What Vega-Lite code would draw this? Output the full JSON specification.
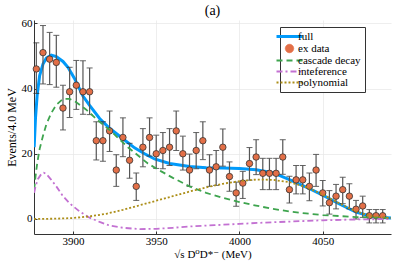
{
  "$schema": "https://vega.github.io/schema/vega-lite/v6.json",
  "width": 357,
  "height": 214,
  "autosize": "none",
  "padding": {"left": 34, "top": 20, "right": 8, "bottom": 32},
  "background": "white",
  "title": {"text": "(a)", "font": "'Liberation Serif', 'DejaVu Serif', serif", "fontSize": 14, "fontWeight": "normal", "color": "#000", "offset": -1},
  "config": {
    "view": {"stroke": null},
    "text": {"font": "'Liberation Serif', serif"},
    "axis": {
      "labelFont": "'Liberation Serif', 'DejaVu Serif', serif", "labelFontSize": 11, "labelColor": "#000",
      "titleFont": "'Liberation Serif', 'DejaVu Serif', serif", "titleFontWeight": "normal", "titleColor": "#000",
      "domainColor": "#333", "domainWidth": 1, "tickColor": "#333", "tickSize": -3,
      "gridColor": "#e6e6e6", "gridWidth": 0.7
    },
    "legend": {"labelFont": "'Liberation Serif', 'DejaVu Serif', serif"}
  },
  "datasets": {
    "points": [
      {"x": 3878, "y": 46, "lo": 38.5, "hi": 54},
      {"x": 3882, "y": 51, "lo": 41.4, "hi": 59.3},
      {"x": 3886, "y": 49, "lo": 41.2, "hi": 57.2},
      {"x": 3890, "y": 48, "lo": 40.4, "hi": 56.3},
      {"x": 3894, "y": 34, "lo": 27.3, "hi": 41},
      {"x": 3898, "y": 39, "lo": 31.1, "hi": 46.5},
      {"x": 3902, "y": 41, "lo": 33.6, "hi": 48.6},
      {"x": 3906, "y": 39, "lo": 32.1, "hi": 48.5},
      {"x": 3910, "y": 39, "lo": 32, "hi": 46.3},
      {"x": 3914, "y": 24, "lo": 18.1, "hi": 29.8},
      {"x": 3918, "y": 24, "lo": 17.7, "hi": 29.8},
      {"x": 3922, "y": 27, "lo": 20.7, "hi": 33.1},
      {"x": 3926, "y": 15, "lo": 10, "hi": 19.7},
      {"x": 3930, "y": 25, "lo": 19.1, "hi": 31},
      {"x": 3934, "y": 18, "lo": 12.5, "hi": 23.2},
      {"x": 3938, "y": 10, "lo": 5.7, "hi": 14.1},
      {"x": 3942, "y": 22, "lo": 16, "hi": 27.7},
      {"x": 3946, "y": 25, "lo": 19.3, "hi": 31},
      {"x": 3950, "y": 20, "lo": 15.5, "hi": 25.7},
      {"x": 3954, "y": 21, "lo": 15.4, "hi": 26.5},
      {"x": 3958, "y": 22, "lo": 16.4, "hi": 27.7},
      {"x": 3962, "y": 27, "lo": 21, "hi": 33.1},
      {"x": 3966, "y": 20, "lo": 15, "hi": 25.4},
      {"x": 3970, "y": 15, "lo": 10, "hi": 19.9},
      {"x": 3974, "y": 21, "lo": 15.4, "hi": 26.5},
      {"x": 3978, "y": 24, "lo": 18.2, "hi": 29.8},
      {"x": 3982, "y": 15, "lo": 10, "hi": 19.7},
      {"x": 3986, "y": 16, "lo": 10.3, "hi": 21},
      {"x": 3990, "y": 22, "lo": 16.2, "hi": 27.6},
      {"x": 3994, "y": 13, "lo": 8.5, "hi": 17.5},
      {"x": 3998, "y": 8, "lo": 3.9, "hi": 11.3},
      {"x": 4002, "y": 11, "lo": 6.3, "hi": 14.6},
      {"x": 4006, "y": 17, "lo": 11.9, "hi": 21.9},
      {"x": 4010, "y": 19, "lo": 13.6, "hi": 24.3},
      {"x": 4014, "y": 14, "lo": 9, "hi": 18.6},
      {"x": 4018, "y": 14, "lo": 9, "hi": 18.6},
      {"x": 4022, "y": 14, "lo": 9, "hi": 18.6},
      {"x": 4026, "y": 19, "lo": 13.7, "hi": 24.3},
      {"x": 4030, "y": 9, "lo": 4.9, "hi": 13.1},
      {"x": 4034, "y": 12, "lo": 7.7, "hi": 16.4},
      {"x": 4038, "y": 12, "lo": 7.7, "hi": 16.4},
      {"x": 4042, "y": 10, "lo": 5.6, "hi": 14.1},
      {"x": 4046, "y": 15, "lo": 10, "hi": 19.8},
      {"x": 4050, "y": 8, "lo": 4, "hi": 11.8},
      {"x": 4054, "y": 5, "lo": 1.5, "hi": 8.7},
      {"x": 4058, "y": 7, "lo": 3.1, "hi": 10.6},
      {"x": 4062, "y": 9, "lo": 4.7, "hi": 12.8},
      {"x": 4066, "y": 7, "lo": 3.1, "hi": 10.8},
      {"x": 4070, "y": 3, "lo": 0, "hi": 5.7},
      {"x": 4074, "y": 4, "lo": 0.5, "hi": 7},
      {"x": 4078, "y": 1, "lo": -1.2, "hi": 2.9},
      {"x": 4082, "y": 1, "lo": -1.2, "hi": 2.9},
      {"x": 4086, "y": 1, "lo": -1.2, "hi": 2.9}
    ],
    "curves": [
      {"series": "full", "x": 3876.7, "y": 22},
      {"series": "full", "x": 3877.5, "y": 31},
      {"series": "full", "x": 3878.5, "y": 38},
      {"series": "full", "x": 3880, "y": 44},
      {"series": "full", "x": 3882, "y": 47.5},
      {"series": "full", "x": 3884, "y": 49.3},
      {"series": "full", "x": 3887, "y": 50.2},
      {"series": "full", "x": 3890, "y": 49.8},
      {"series": "full", "x": 3894, "y": 48.3},
      {"series": "full", "x": 3897, "y": 46.5},
      {"series": "full", "x": 3901, "y": 43},
      {"series": "full", "x": 3906, "y": 37.7},
      {"series": "full", "x": 3910, "y": 34.8},
      {"series": "full", "x": 3916, "y": 30.8},
      {"series": "full", "x": 3922, "y": 27.8},
      {"series": "full", "x": 3930, "y": 24.6},
      {"series": "full", "x": 3937, "y": 21.8},
      {"series": "full", "x": 3943, "y": 20},
      {"series": "full", "x": 3949, "y": 18.4},
      {"series": "full", "x": 3958, "y": 17},
      {"series": "full", "x": 3970, "y": 16.1},
      {"series": "full", "x": 3980, "y": 15.7},
      {"series": "full", "x": 3990, "y": 15.6},
      {"series": "full", "x": 4000, "y": 15.5},
      {"series": "full", "x": 4010, "y": 15.1},
      {"series": "full", "x": 4020, "y": 14.2},
      {"series": "full", "x": 4030, "y": 12.1},
      {"series": "full", "x": 4040, "y": 9.8},
      {"series": "full", "x": 4050, "y": 7.3},
      {"series": "full", "x": 4060, "y": 4.6},
      {"series": "full", "x": 4070, "y": 2.1},
      {"series": "full", "x": 4080, "y": 0.7},
      {"series": "full", "x": 4091, "y": 0.3},
      {"series": "cascade decay", "x": 3876.7, "y": 9},
      {"series": "cascade decay", "x": 3877.5, "y": 13},
      {"series": "cascade decay", "x": 3878.5, "y": 17},
      {"series": "cascade decay", "x": 3880, "y": 21.5},
      {"series": "cascade decay", "x": 3882, "y": 25.5},
      {"series": "cascade decay", "x": 3884, "y": 29},
      {"series": "cascade decay", "x": 3887, "y": 32.5},
      {"series": "cascade decay", "x": 3890, "y": 35},
      {"series": "cascade decay", "x": 3894, "y": 36.8},
      {"series": "cascade decay", "x": 3898, "y": 36.8},
      {"series": "cascade decay", "x": 3902, "y": 35.8},
      {"series": "cascade decay", "x": 3908, "y": 33.5},
      {"series": "cascade decay", "x": 3915, "y": 30.2},
      {"series": "cascade decay", "x": 3922, "y": 27.3},
      {"series": "cascade decay", "x": 3933, "y": 22},
      {"series": "cascade decay", "x": 3945, "y": 17},
      {"series": "cascade decay", "x": 3953, "y": 14.6},
      {"series": "cascade decay", "x": 3960, "y": 12.6},
      {"series": "cascade decay", "x": 3970, "y": 10},
      {"series": "cascade decay", "x": 3980, "y": 8},
      {"series": "cascade decay", "x": 3990, "y": 6.5},
      {"series": "cascade decay", "x": 4000, "y": 5.2},
      {"series": "cascade decay", "x": 4010, "y": 4.1},
      {"series": "cascade decay", "x": 4020, "y": 3.1},
      {"series": "cascade decay", "x": 4030, "y": 2.3},
      {"series": "cascade decay", "x": 4040, "y": 1.7},
      {"series": "cascade decay", "x": 4050, "y": 1.2},
      {"series": "cascade decay", "x": 4060, "y": 0.9},
      {"series": "cascade decay", "x": 4070, "y": 0.6},
      {"series": "cascade decay", "x": 4080, "y": 0.45},
      {"series": "cascade decay", "x": 4091, "y": 0.35},
      {"series": "inteference", "x": 3876.7, "y": 8},
      {"series": "inteference", "x": 3877.5, "y": 10},
      {"series": "inteference", "x": 3879, "y": 12.3},
      {"series": "inteference", "x": 3881, "y": 13.8},
      {"series": "inteference", "x": 3882.5, "y": 14.2},
      {"series": "inteference", "x": 3884, "y": 13.8},
      {"series": "inteference", "x": 3887, "y": 12},
      {"series": "inteference", "x": 3890, "y": 10},
      {"series": "inteference", "x": 3894, "y": 7},
      {"series": "inteference", "x": 3898, "y": 4.8},
      {"series": "inteference", "x": 3904, "y": 2.3},
      {"series": "inteference", "x": 3910, "y": 0.4},
      {"series": "inteference", "x": 3916, "y": -0.9},
      {"series": "inteference", "x": 3922, "y": -2},
      {"series": "inteference", "x": 3930, "y": -2.7},
      {"series": "inteference", "x": 3940, "y": -3.1},
      {"series": "inteference", "x": 3950, "y": -3},
      {"series": "inteference", "x": 3960, "y": -2.7},
      {"series": "inteference", "x": 3970, "y": -2.3},
      {"series": "inteference", "x": 3985, "y": -1.9},
      {"series": "inteference", "x": 4000, "y": -1.5},
      {"series": "inteference", "x": 4015, "y": -1.1},
      {"series": "inteference", "x": 4030, "y": -0.8},
      {"series": "inteference", "x": 4050, "y": -0.4},
      {"series": "inteference", "x": 4070, "y": -0.15},
      {"series": "inteference", "x": 4091, "y": 0},
      {"series": "polynomial", "x": 3876.7, "y": 0},
      {"series": "polynomial", "x": 3890, "y": 0.1},
      {"series": "polynomial", "x": 3900, "y": 0.3},
      {"series": "polynomial", "x": 3910, "y": 0.8},
      {"series": "polynomial", "x": 3920, "y": 1.6},
      {"series": "polynomial", "x": 3930, "y": 2.8},
      {"series": "polynomial", "x": 3940, "y": 4.2},
      {"series": "polynomial", "x": 3950, "y": 5.6},
      {"series": "polynomial", "x": 3960, "y": 7},
      {"series": "polynomial", "x": 3970, "y": 8.4},
      {"series": "polynomial", "x": 3980, "y": 9.7},
      {"series": "polynomial", "x": 3990, "y": 10.8},
      {"series": "polynomial", "x": 4000, "y": 11.6},
      {"series": "polynomial", "x": 4010, "y": 12.1},
      {"series": "polynomial", "x": 4020, "y": 12},
      {"series": "polynomial", "x": 4030, "y": 11.3},
      {"series": "polynomial", "x": 4040, "y": 9.8},
      {"series": "polynomial", "x": 4050, "y": 7.5},
      {"series": "polynomial", "x": 4060, "y": 4.8},
      {"series": "polynomial", "x": 4070, "y": 2.3},
      {"series": "polynomial", "x": 4080, "y": 0.8},
      {"series": "polynomial", "x": 4091, "y": 0.3}
    ]
  },
  "layer": [
    {
      "data": {"name": "curves"},
      "transform": [{"filter": "datum.series === 'full'"}],
      "mark": {"type": "line", "strokeWidth": 3, "clip": true},
      "encoding": {
        "x": {"field": "x", "type": "quantitative", "title": "√s D⁰D*⁻  (MeV)", "scale": {"domain": [3876.6, 4091], "nice": false, "zero": false},
              "axis": {"values": [3900, 3950, 4000, 4050], "format": "d", "titleFontSize": 11, "labelPadding": 4, "titlePadding": 2}},
        "y": {"field": "y", "type": "quantitative", "title": "Events/4.0 MeV", "scale": {"domain": [-4.6, 61], "nice": false, "zero": false},
              "axis": {"values": [0, 10, 20, 30, 40, 50, 60], "titleFontSize": 12, "labelPadding": 5, "titlePadding": 3}},
        "color": {"field": "series", "type": "nominal",
          "scale": {"domain": ["full", "ex data", "cascade decay", "inteference", "polynomial"], "range": ["#009AFA", "#E36F47", "#3EA44E", "#C371D2", "#AC8E18"]},
          "legend": {
            "orient": "none", "legendX": 246, "legendY": 7, "title": null,
            "strokeColor": "#333", "fillColor": "white", "padding": 4, "cornerRadius": 0,
            "labelFont": "'Liberation Serif', 'DejaVu Serif', serif", "labelFontSize": 11, "labelColor": "#000", "labelOffset": 3,
            "symbolType": "stroke", "symbolSize": 676, "rowPadding": -1,
            "encode": {"symbols": {"update": {
              "shape": {"signal": "datum.value === 'ex data' ? 'circle' : 'stroke'"},
              "size": {"signal": "datum.value === 'ex data' ? 70 : 676"},
              "fill": {"signal": "datum.value === 'ex data' ? '#E36F47' : 'transparent'"},
              "stroke": {"signal": "datum.value === 'full' ? '#009AFA' : datum.value === 'ex data' ? '#333' : datum.value === 'cascade decay' ? '#3EA44E' : datum.value === 'inteference' ? '#C371D2' : '#AC8E18'"},
              "strokeWidth": {"signal": "datum.value === 'full' ? 3 : datum.value === 'ex data' ? 0.8 : 1.8"},
              "strokeDash": {"signal": "datum.value === 'cascade decay' ? [6,4] : datum.value === 'inteference' ? [6,3,2,3] : datum.value === 'polynomial' ? [2,2] : [1,0]"},
              "opacity": {"value": 1}
            }}}
          }
        }
      }
    },
    {
      "data": {"name": "points"},
      "mark": {"type": "errorbar", "ticks": {"size": 6, "color": "#222", "thickness": 1}, "color": "#555", "thickness": 1.2},
      "encoding": {
        "x": {"field": "x", "type": "quantitative", "title": "√s D⁰D*⁻  (MeV)"},
        "y": {"field": "lo", "type": "quantitative", "title": "Events/4.0 MeV"},
        "y2": {"field": "hi"}
      }
    },
    {
      "data": {"name": "points"},
      "mark": {"type": "point", "shape": "circle", "filled": true, "fill": "#E36F47", "stroke": "#333", "strokeWidth": 0.8, "size": 42, "opacity": 1},
      "encoding": {
        "x": {"field": "x", "type": "quantitative", "title": "√s D⁰D*⁻  (MeV)"},
        "y": {"field": "y", "type": "quantitative", "title": "Events/4.0 MeV"}
      }
    },
    {
      "data": {"name": "curves"},
      "transform": [{"filter": "datum.series !== 'full'"}],
      "mark": {"type": "line", "strokeWidth": 1.8, "clip": true},
      "encoding": {
        "x": {"field": "x", "type": "quantitative", "title": "√s D⁰D*⁻  (MeV)"},
        "y": {"field": "y", "type": "quantitative", "title": "Events/4.0 MeV"},
        "color": {"field": "series", "type": "nominal"},
        "strokeDash": {"field": "series", "type": "nominal", "legend": null,
          "scale": {"domain": ["full", "ex data", "cascade decay", "inteference", "polynomial"], "range": [[1, 0], [1, 0], [6, 4], [6, 3, 2, 3], [2, 2]]}}
      }
    }
  ]
}
